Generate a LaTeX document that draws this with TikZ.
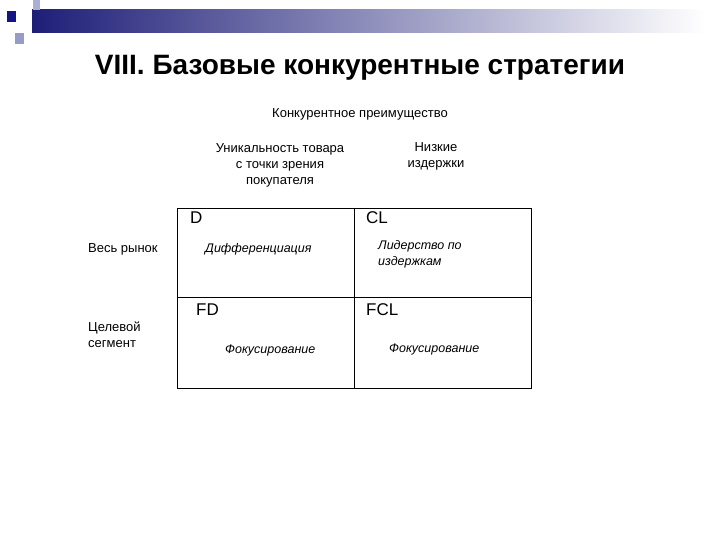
\documentclass[tikz,border=0pt]{standalone}
\usepackage{fontspec}
\setmainfont{Liberation Sans}
\definecolor{dk}{RGB}{30,30,120}
\definecolor{sq1}{RGB}{170,175,215}
\definecolor{sq2}{RGB}{20,20,130}
\definecolor{sq3}{RGB}{150,155,200}
\begin{document}
\begin{tikzpicture}[x=1pt,y=-1pt,
  sm/.style={font=\fontsize{13}{16}\selectfont,align=center,inner sep=0},
  it/.style={font=\fontsize{12.5}{16}\selectfont\itshape,align=left,inner sep=0,anchor=west},
  big/.style={font=\fontsize{17}{19}\selectfont,inner sep=0,anchor=west}]
\useasboundingbox (0,0) rectangle (720,540);
\shade[left color=dk,right color=white] (32,10) rectangle (705,33);
\fill[sq1] (33,0) rectangle (40,10);
\fill[sq2] (7,11) rectangle (16,22);
\fill[sq3] (15,33) rectangle (24,44);
\node[font=\fontsize{28}{30}\selectfont\bfseries,inner sep=0] (title) at (360,68) {VIII. Базовые конкурентные стратегии};
\node[sm] (adv) at (360,114) {Конкурентное преимущество};
\node[sm] (uniq) at (280,165) {Уникальность товара\\с точки зрения\\покупателя};
\node[sm] (low) at (436,156) {Низкие\\издержки};
\draw[thick] (177,208) rectangle (531,388);
\draw[thick] (354,208) -- (354,388);
\draw[thick] (177,297) -- (531,297);
\node[big] (d) at (190,218) {D};
\node[big] (cl) at (366,218) {CL};
\node[big] (fd) at (196,310) {FD};
\node[big] (fcl) at (366,310) {FCL};
\node[it] (dif) at (205,249) {Дифференциация};
\node[it] (lid) at (378,254) {Лидерство по\\издержкам};
\node[it] (f1) at (225,350) {Фокусирование};
\node[it] (f2) at (389,349) {Фокусирование};
\node[sm,anchor=west] (all) at (88,249) {Весь рынок};
\node[sm,anchor=west,align=left] (tgt) at (88,335) {Целевой\\сегмент};
\end{tikzpicture}
\end{document}
